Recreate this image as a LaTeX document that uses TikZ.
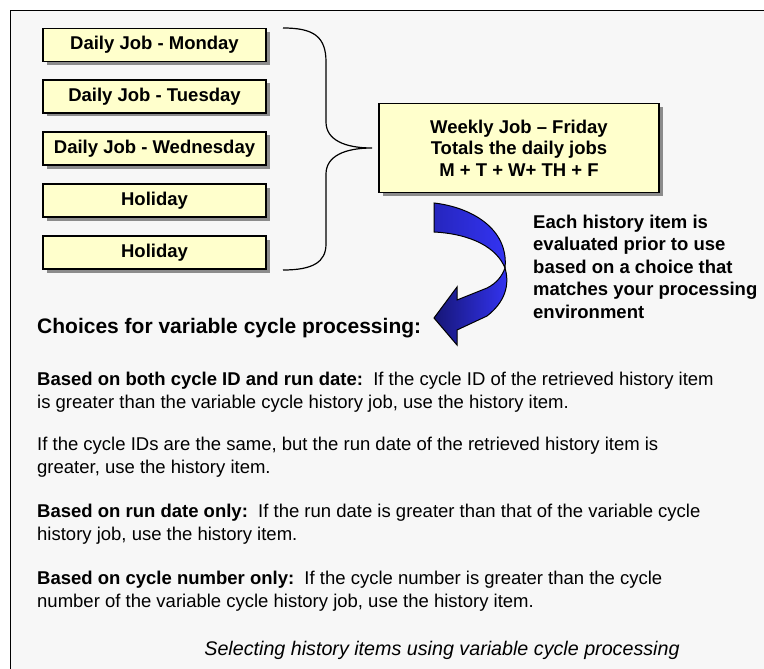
\documentclass[tikz,border=0pt]{standalone}
\usepackage{fontspec}
\setmainfont{Liberation Sans}
\usetikzlibrary{shadows}

\definecolor{pagegray}{RGB}{247,247,247}
\definecolor{jobyellow}{RGB}{255,255,204}
\definecolor{shadowgray}{RGB}{140,140,140}
\definecolor{arrowdark}{RGB}{22,22,118}
\definecolor{arrowmid}{RGB}{38,38,190}
\definecolor{arrowlight}{RGB}{52,52,245}

\begin{document}
\begin{tikzpicture}[x=1pt,y=-1pt,
		jobbox/.style={draw=black,line width=1.5pt,fill=jobyellow,inner sep=0pt,
			drop shadow={shadow xshift=3.5pt,shadow yshift=-3.5pt,fill=shadowgray,opacity=1},
			font=\fontsize{18.5}{21.5}\selectfont\bfseries},
		daybox/.style={jobbox,minimum width=223pt,minimum height=33pt},
		bodytext/.style={anchor=north west,inner sep=0pt,align=left,
			font=\fontsize{18.5}{23}\selectfont}]
			\clip (0,0) rectangle (764,669);
			\fill[white] (0,0) rectangle (764,669);
			\draw[line width=1.6pt,fill=pagegray] (10.5,10.5) rectangle (800,700);

			% daily jobs
			\node[daybox] (mon) at (154.5,45) {Daily Job - Monday};
			\node[daybox] (tue) at (154.5,96.5) {Daily Job - Tuesday};
			\node[daybox] (wed) at (154.5,148.5) {Daily Job - Wednesday};
			\node[daybox] (hol1) at (154.5,200.5) {Holiday};
			\node[daybox] (hol2) at (154.5,252.5) {Holiday};

			% weekly job
			\node[jobbox,minimum width=280pt,minimum height=89pt,align=center] (weekly) at (519,148)
				{Weekly Job – Friday\\Totals the daily jobs\\M + T + W+ TH + F};

			% brace
			\coordinate (BT) at (283,28);
			\coordinate (BB) at (283,270);
			\coordinate (BTip) at (372,148);
			\draw[line width=1.2pt] (BT) .. controls (313,28) and (326,36) .. (326,62)
				-- (326,122) .. controls (326,140) and (345,148) .. (BTip)
				.. controls (345,148) and (326,156) .. (326,174)
				-- (326,244) .. controls (326,262) and (313,270) .. (BB);

			% curved arrow
			\coordinate (Twist) at (505,268);
			\draw[line width=1pt,left color=arrowmid,right color=arrowlight]
				(434,203) .. controls (470,207) and (509,228) .. (Twist)
				.. controls (497,248) and (472,234) .. (434,232) -- cycle;
			\draw[line width=1pt,left color=arrowdark,right color=arrowlight]
				(Twist) .. controls (510,285) and (505,302) .. (487,316)
				-- (457,330) -- (457,345) -- (434,318) -- (457,287) -- (457,300)
				-- (487,288) .. controls (497,283) and (502,276) .. (Twist) -- cycle;

			\node[bodytext,font=\fontsize{18.5}{22.5}\selectfont\bfseries] (note) at (533,214.5)
				{Each history item is\\evaluated prior to use\\based on a choice that\\matches your processing\\environment};

			% choices
			\node[anchor=base west,inner sep=0pt,font=\fontsize{21}{25}\selectfont\bfseries] (choices) at (37,333)
				{Choices for variable cycle processing:};
			\node[bodytext] (both) at (37,371.5)
				{\textbf{Based on both cycle ID and run date:}\ \ If the cycle ID of the retrieved history item\\is greater than the variable cycle history job, use the history item.};
			\node[bodytext] (same) at (37,436.5)
				{If the cycle IDs are the same, but the run date of the retrieved history item is\\greater, use the history item.};
			\node[bodytext] (rundate) at (37,503.5)
				{\textbf{Based on run date only:}\ \ If the run date is greater than that of the variable cycle\\history job, use the history item.};
			\node[bodytext] (cyclenum) at (37,570.5)
				{\textbf{Based on cycle number only:}\ \ If the cycle number is greater than the cycle\\number of the variable cycle history job, use the history item.};

			\node[anchor=base,inner sep=0pt,font=\fontsize{19.7}{24}\selectfont\itshape] (caption) at (442,655)
				{Selecting history items using variable cycle processing};
		\end{tikzpicture}
\end{document}
